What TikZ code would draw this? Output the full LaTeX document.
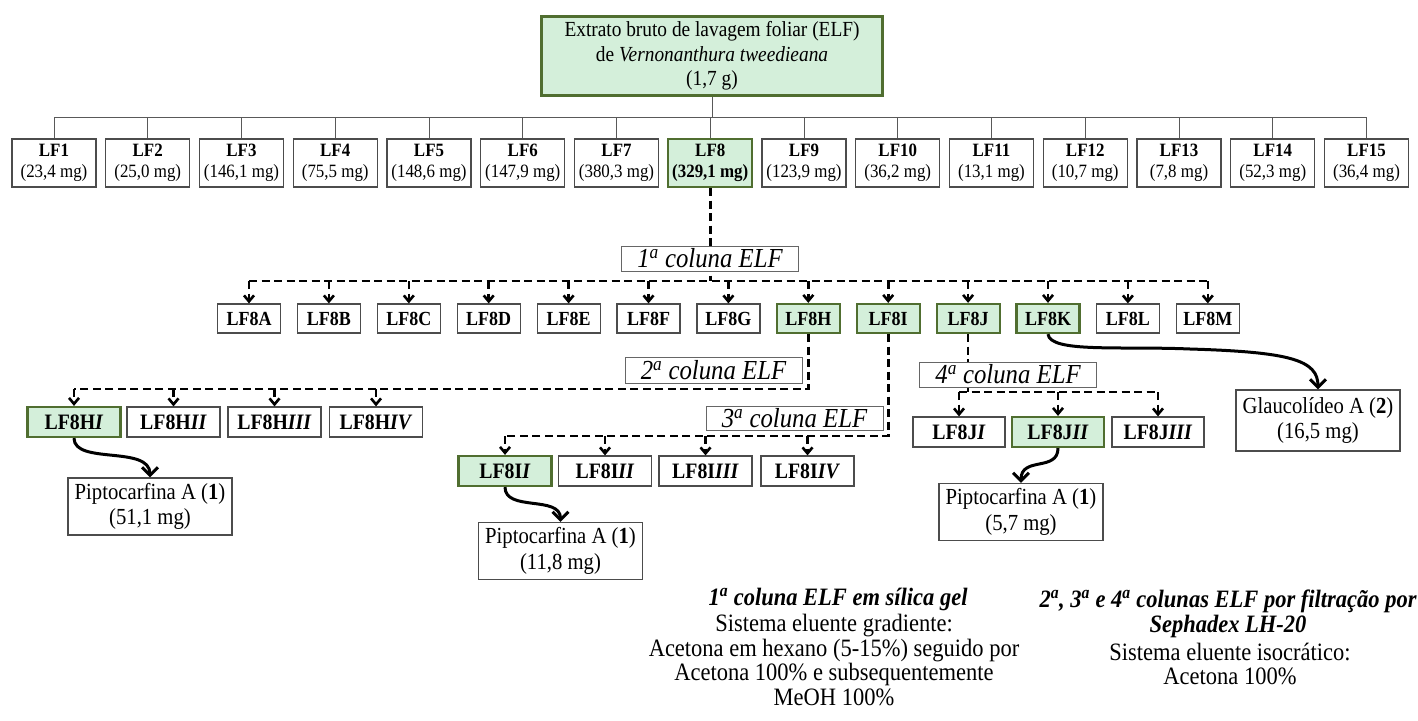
\documentclass[tikz,border=0pt]{standalone}
\usepackage{fontspec}
\setmainfont{Liberation Serif}[FakeStretch=0.9]
\usetikzlibrary{arrows.meta}
\definecolor{gfill}{RGB}{212,239,218}
\definecolor{gdraw}{RGB}{80,110,48}
\begin{document}
\begin{tikzpicture}[x=1pt,y=-1pt,
 wbox/.style={draw=black!70,line width=1.2pt,fill=white,inner sep=0pt,align=center},
 gbox/.style={draw=gdraw,line width=2.2pt,fill=gfill,inner sep=0pt,align=center},
 rowone/.style={minimum width=84pt,minimum height=48pt,font=\fontsize{18.8}{21}\selectfont},
 rowtwo/.style={minimum width=63pt,minimum height=29pt,font=\fontsize{20}{20}\selectfont\bfseries},
 rowthree/.style={minimum width=93pt,minimum height=30pt,font=\fontsize{22}{22}\selectfont\bfseries},
 labelbox/.style={draw=black!60,line width=1pt,fill=white,inner sep=0pt,minimum width=177pt,minimum height=25pt,font=\fontsize{27.5}{27.5}\selectfont\itshape},
 result/.style={wbox,minimum width=164pt,minimum height=57pt,font=\fontsize{23}{25.5}\selectfont},
 treeline/.style={draw=black!65,line width=1pt},
 dline/.style={line width=2.6pt,dash pattern=on 8pt off 4.5pt},
 darrow/.style={dline,-{Straight Barb[length=6pt,width=10pt]}},
 carrow/.style={line width=3pt,-{Straight Barb[length=8pt,width=16pt]}},
 legend/.style={inner sep=0pt,align=center,font=\fontsize{25}{24.5}\selectfont}
]
\useasboundingbox (0,0) rectangle (1418,720);

% top box
\node[gbox,minimum width=341pt,minimum height=79pt,font=\fontsize{21.5}{24.5}\selectfont] (ELF) at (712,56)
 {Extrato bruto de lavagem foliar (ELF)\\de \textit{Vernonanthura tweedieana}\\(1,7 g)};

% first row
\node[wbox,rowone] (LF1) at (54,163) {\textbf{LF1}\\(23,4 mg)};
\node[wbox,rowone] (LF2) at (147.75,163) {\textbf{LF2}\\(25,0 mg)};
\node[wbox,rowone] (LF3) at (241.5,163) {\textbf{LF3}\\(146,1 mg)};
\node[wbox,rowone] (LF4) at (335.25,163) {\textbf{LF4}\\(75,5 mg)};
\node[wbox,rowone] (LF5) at (429,163) {\textbf{LF5}\\(148,6 mg)};
\node[wbox,rowone] (LF6) at (522.75,163) {\textbf{LF6}\\(147,9 mg)};
\node[wbox,rowone] (LF7) at (616.5,163) {\textbf{LF7}\\(380,3 mg)};
\node[gbox,rowone] (LF8) at (710.25,163) {\textbf{LF8}\\\textbf{(329,1 mg)}};
\node[wbox,rowone] (LF9) at (804,163) {\textbf{LF9}\\(123,9 mg)};
\node[wbox,rowone] (LF10) at (897.75,163) {\textbf{LF10}\\(36,2 mg)};
\node[wbox,rowone] (LF11) at (991.5,163) {\textbf{LF11}\\(13,1 mg)};
\node[wbox,rowone] (LF12) at (1085.25,163) {\textbf{LF12}\\(10,7 mg)};
\node[wbox,rowone] (LF13) at (1179,163) {\textbf{LF13}\\(7,8 mg)};
\node[wbox,rowone] (LF14) at (1272.75,163) {\textbf{LF14}\\(52,3 mg)};
\node[wbox,rowone] (LF15) at (1366.5,163) {\textbf{LF15}\\(36,4 mg)};

% tree lines
\coordinate (busA) at (712,117);
\draw[treeline] (ELF.south) -- (busA);
\draw[treeline] (LF1.north |- busA) -- (LF15.north |- busA);
\foreach \n in {LF1,LF2,LF3,LF4,LF5,LF6,LF7,LF8,LF9,LF10,LF11,LF12,LF13,LF14,LF15}
  \draw[treeline] (\n.north |- busA) -- (\n.north);

% second row
\node[wbox,rowtwo] (LF8A) at (249,318.5) {LF8A};
\node[wbox,rowtwo] (LF8B) at (328.9,318.5) {LF8B};
\node[wbox,rowtwo] (LF8C) at (408.8,318.5) {LF8C};
\node[wbox,rowtwo] (LF8D) at (488.7,318.5) {LF8D};
\node[wbox,rowtwo] (LF8E) at (568.6,318.5) {LF8E};
\node[wbox,rowtwo] (LF8F) at (648.5,318.5) {LF8F};
\node[wbox,rowtwo] (LF8G) at (728.4,318.5) {LF8G};
\node[gbox,rowtwo] (LF8H) at (808.3,318.5) {LF8H};
\node[gbox,rowtwo] (LF8I) at (888.2,318.5) {LF8I};
\node[gbox,rowtwo] (LF8J) at (968.1,318.5) {LF8J};
\node[gbox,rowtwo] (LF8K) at (1048,318.5) {LF8K};
\node[wbox,rowtwo] (LF8L) at (1127.9,318.5) {LF8L};
\node[wbox,rowtwo] (LF8M) at (1207.8,318.5) {LF8M};

\coordinate (busB) at (710,281);
\draw[dline] (LF8.south) -- (LF8.south |- busB);
\draw[dline] (LF8A.north |- busB) -- (LF8M.north |- busB);
\foreach \n in {LF8A,LF8B,LF8C,LF8D,LF8E,LF8F,LF8G,LF8H,LF8I,LF8J,LF8K,LF8L,LF8M}
  \draw[darrow] (\n.north |- busB) -- (\n.north);

% H branch
\node[gbox,rowthree] (LF8HI) at (74,422) {LF8H\textit{I}};
\node[wbox,rowthree] (LF8HII) at (173.5,422) {LF8H\textit{II}};
\node[wbox,rowthree] (LF8HIII) at (274.5,422) {LF8H\textit{III}};
\node[wbox,rowthree] (LF8HIV) at (376,422) {LF8H\textit{IV}};
\coordinate (busC) at (808,389);
\draw[dline] (LF8H.south) -- (LF8H.south |- busC) -- (LF8HI.north |- busC);
\foreach \n in {LF8HI,LF8HII,LF8HIII,LF8HIV}
  \draw[darrow] (\n.north |- busC) -- (\n.north);

% I branch
\node[gbox,rowthree] (LF8II) at (505,471) {LF8I\textit{I}};
\node[wbox,rowthree] (LF8III) at (605,471) {LF8I\textit{II}};
\node[wbox,rowthree] (LF8IIII) at (705.5,471) {LF8I\textit{III}};
\node[wbox,rowthree] (LF8IIV) at (807.5,471) {LF8I\textit{IV}};
\coordinate (busD) at (888,436);
\draw[dline] (LF8I.south) -- (LF8I.south |- busD) -- (LF8II.north |- busD);
\foreach \n in {LF8II,LF8III,LF8IIII,LF8IIV}
  \draw[darrow] (\n.north |- busD) -- (\n.north);

% J branch
\node[wbox,rowthree,minimum width=92pt] (LF8JI) at (959,432) {LF8J\textit{I}};
\node[gbox,rowthree,minimum width=92pt] (LF8JII) at (1058,432) {LF8J\textit{II}};
\node[wbox,rowthree,minimum width=92pt] (LF8JIII) at (1158,432) {LF8J\textit{III}};
\coordinate (busE) at (968,392);
\draw[dline] (LF8J.south) -- (LF8J.south |- busE);
\draw[dline] (LF8JI.north |- busE) -- (LF8JIII.north |- busE);
\foreach \n in {LF8JI,LF8JII,LF8JIII}
  \draw[darrow] (\n.north |- busE) -- (\n.north);

% results
\node[result] (P1) at (150,506.5) {Piptocarfina A (\textbf{1})\\(51,1 mg)};
\node[result] (P2) at (560.5,551) {Piptocarfina A (\textbf{1})\\(11,8 mg)};
\node[result] (P3) at (1021,512) {Piptocarfina A (\textbf{1})\\(5,7 mg)};
\node[result,minimum height=61pt] (G2) at (1318,420.5) {Glaucolídeo A (\textbf{2})\\(16,5 mg)};

\draw[carrow] (LF8HI.south) .. controls (74,465) and (150,445) .. (P1.north);
\draw[carrow] (LF8II.south) .. controls (505,512) and (560.5,495) .. (P2.north);
\draw[carrow] (LF8JII.south) .. controls (1058,472) and (1021,456) .. (P3.north);
\coordinate (kmid) at (1190,349);
\draw[carrow] (LF8K.south) .. controls (1050,353) and (1120,346) .. (kmid) .. controls (1290,352) and (1318,360) .. (G2.north);

% column labels
\node[labelbox] (C1) at (710,258.5) {1\textsuperscript{a} coluna ELF};
\node[labelbox,minimum height=26pt] (C2) at (713.5,370) {2\textsuperscript{a} coluna ELF};
\node[labelbox,minimum height=24pt] (C3) at (794.5,418) {3\textsuperscript{a} coluna ELF};
\node[labelbox] (C4) at (1008,374.5) {4\textsuperscript{a} coluna ELF};

% legend
\node[legend,font=\fontsize{25}{24.5}\selectfont\bfseries\itshape] (T1) at (838,599) {1\textsuperscript{a} coluna ELF em sílica gel};
\node[legend] (B1) at (834,660) {Sistema eluente gradiente:\\Acetona em hexano (5-15\%) seguido por\\Acetona 100\% e subsequentemente\\MeOH 100\%};
\node[legend,font=\fontsize{25}{24.5}\selectfont\bfseries\itshape] (T2) at (1228,614) {2\textsuperscript{a}, 3\textsuperscript{a} e 4\textsuperscript{a} colunas ELF por filtração por\\Sephadex LH-20};
\node[legend] (B2) at (1230,664) {Sistema eluente isocrático:\\Acetona 100\%};
\end{tikzpicture}
\end{document}
